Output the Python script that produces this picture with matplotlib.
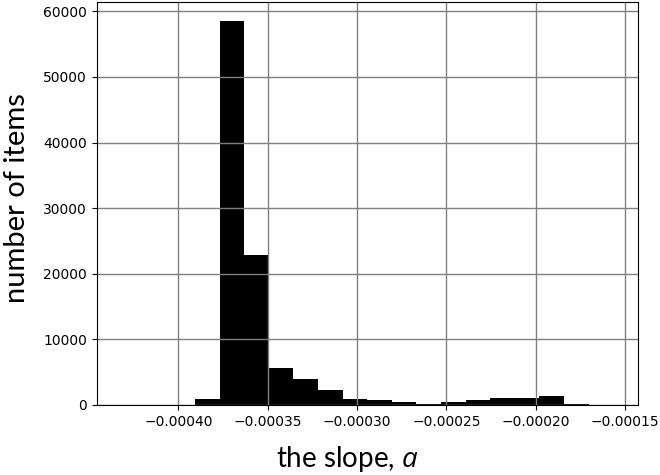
import numpy as np
import matplotlib
matplotlib.use('Agg')
import matplotlib.pyplot as plt

# histogram of fitted slopes: 20 equal bins between the min and max slope
slope_min = -0.000432
slope_max = -0.0001566
counts = [3, 5, 20, 900, 58500, 22900, 5650, 4000, 2340, 980,
          720, 460, 210, 460, 820, 1120, 1120, 1320, 210, 40]

edges = np.linspace(slope_min, slope_max, len(counts) + 1)
centres = 0.5 * (edges[:-1] + edges[1:])

plt.rcParams['mathtext.fontset'] = 'custom'
plt.rcParams['mathtext.rm'] = 'Lato'
plt.rcParams['mathtext.it'] = 'Open Sans:italic'

fig = plt.figure(figsize=(6.6, 4.75), dpi=100)
ax = fig.add_axes([0.1465, 0.1474, 0.8197, 0.8484])

ax.hist(centres, bins=edges, weights=counts, color='black')
ax.grid(True, color='#808080', lw=1.0)
ax.tick_params(labelsize=10)
for s in ax.spines.values():
    s.set_color('black')

lab_font = dict(family=['Lato', 'DejaVu Sans'])
ax.set_xlabel('the slope, $\\mathit{a}$', fontsize=20, **lab_font)
ax.set_ylabel('number of items', fontsize=21, **lab_font)
ax.xaxis.set_label_coords(0.463, -0.097)
ax.yaxis.set_label_coords(-0.124, 0.513)

fig.savefig('out.png', dpi=100)
